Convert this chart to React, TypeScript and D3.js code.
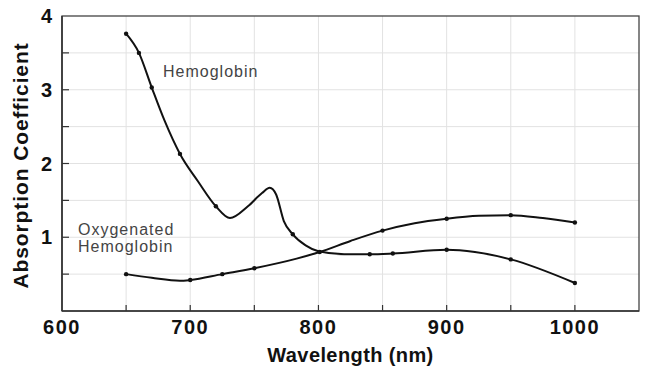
import * as d3 from "d3";
import React from "react";

// wavelength (nm), absorption coefficient
const hemoglobin: [number, number][] = [
  [650, 3.76], [660, 3.5], [670, 3.03], [680, 2.58], [692, 2.13],
  [706, 1.76], [720, 1.42], [731, 1.26], [745, 1.42], [756, 1.6],
  [762, 1.67], [767, 1.58], [773, 1.22], [780, 1.04], [790, 0.89],
  [800, 0.81], [820, 0.77], [840, 0.77], [858, 0.78], [900, 0.83],
  [922, 0.8], [950, 0.7], [1000, 0.38],
];
const hemoglobinDots = [650, 660, 670, 692, 720, 780, 840, 858, 900, 950, 1000];

const oxyHemoglobin: [number, number][] = [
  [650, 0.5], [670, 0.45], [692, 0.41], [700, 0.42], [725, 0.5],
  [750, 0.58], [783, 0.71], [801, 0.8], [825, 0.95], [850, 1.09],
  [875, 1.19], [900, 1.25], [925, 1.29], [950, 1.3], [975, 1.26],
  [1000, 1.2],
];
const oxyDots = [650, 700, 725, 750, 800, 850, 900, 950, 1000];

const xTickLabels = [600, 700, 800, 900, 1000];
const xTickMarks = [650, 700, 750, 800, 850, 900, 950, 1000];
const yTickLabels = [1, 2, 3, 4];
const yTickMarks = [0.5, 1, 1.5, 2, 2.5, 3, 3.5];

const W = 657;
const H = 369;
const margin = { top: 16, right: 18, bottom: 58, left: 62 };

export default function App() {
  const x = d3
    .scaleLinear()
    .domain([600, 1050])
    .range([margin.left, W - margin.right]);
  const y = d3
    .scaleLinear()
    .domain([0, 4])
    .range([H - margin.bottom, margin.top]);

  const line = d3
    .line<[number, number]>()
    .x((d) => x(d[0]))
    .y((d) => y(d[1]))
    .curve(d3.curveMonotoneX);

  const x0 = x.range()[0];
  const x1 = x.range()[1];
  const y0 = y.range()[0];
  const y1 = y.range()[1];

  const dotsFor = (data: [number, number][], marks: number[]) =>
    data.filter((d) => marks.some((m) => Math.abs(m - d[0]) <= 1));

  const font = "'Liberation Sans', Arial, Helvetica, sans-serif";

  return (
    <svg
      width={W}
      height={H}
      style={{ position: "absolute", left: 0, top: 0, background: "#fff" }}
    >
      {/* grid */}
      <g stroke="#e2e2e2" strokeWidth={1}>
        {xTickMarks.map((t) => (
          <line key={`gx-${t}`} x1={x(t)} x2={x(t)} y1={y1} y2={y0} />
        ))}
        {yTickMarks.map((t) => (
          <line key={`gy-${t}`} x1={x0} x2={x1} y1={y(t)} y2={y(t)} />
        ))}
      </g>

      {/* frame */}
      <rect
        x={x0}
        y={y1}
        width={x1 - x0}
        height={y0 - y1}
        fill="none"
        stroke="#444"
        strokeWidth={1.3}
      />
      <line x1={x0} x2={x1} y1={y0} y2={y0} stroke="#333" strokeWidth={1.6} />
      <line x1={x0} x2={x0} y1={y1} y2={y0} stroke="#333" strokeWidth={1.6} />

      {/* ticks */}
      <g stroke="#333" strokeWidth={1.2}>
        {xTickMarks.map((t) => (
          <line key={`tx-${t}`} x1={x(t)} x2={x(t)} y1={y0} y2={y0 - 6} />
        ))}
        {yTickMarks.map((t) => (
          <line key={`ty-${t}`} x1={x0} x2={x0 + 7} y1={y(t)} y2={y(t)} />
        ))}
      </g>

      {/* tick labels */}
      <g fontFamily={font} fontWeight="bold" fontSize={20} fill="#111">
        {xTickLabels.map((t) => (
          <text
            key={`lx-${t}`}
            x={x(t)}
            y={y0 + 23}
            textAnchor="middle"
            letterSpacing={1.5}
          >
            {t}
          </text>
        ))}
        {yTickLabels.map((t) => (
          <text
            key={`ly-${t}`}
            x={x0 - 10}
            y={y(t) + 7}
            textAnchor="end"
          >
            {t}
          </text>
        ))}
      </g>

      {/* axis titles */}
      <text
        x={(x0 + 575) / 2 + 32}
        y={H - 7}
        textAnchor="middle"
        fontFamily={font}
        fontWeight="bold"
        fontSize={20}
        letterSpacing={0.4}
        fill="#111"
      >
        Wavelength (nm)
      </text>
      <text
        transform={`translate(28, ${(y0 + y1) / 2 + 2}) rotate(-90)`}
        textAnchor="middle"
        fontFamily={font}
        fontWeight="bold"
        fontSize={21}
        letterSpacing={0.9}
        fill="#111"
      >
        Absorption Coefficient
      </text>

      {/* curves */}
      <path d={line(hemoglobin) || ""} fill="none" stroke="#111" strokeWidth={2} />
      <path d={line(oxyHemoglobin) || ""} fill="none" stroke="#111" strokeWidth={2} />
      <g fill="#111">
        {dotsFor(hemoglobin, hemoglobinDots).map((d) => (
          <circle key={`hd-${d[0]}`} cx={x(d[0])} cy={y(d[1])} r={2.2} />
        ))}
        {dotsFor(oxyHemoglobin, oxyDots).map((d) => (
          <circle key={`od-${d[0]}`} cx={x(d[0])} cy={y(d[1])} r={2.2} />
        ))}
      </g>

      {/* series labels */}
      <g fontFamily={font} fontSize={16} fill="#444" letterSpacing={1}>
        <text x={163} y={77}>Hemoglobin</text>
        <text x={78} y={235}>Oxygenated</text>
        <text x={78} y={252}>Hemoglobin</text>
      </g>
    </svg>
  );
}
